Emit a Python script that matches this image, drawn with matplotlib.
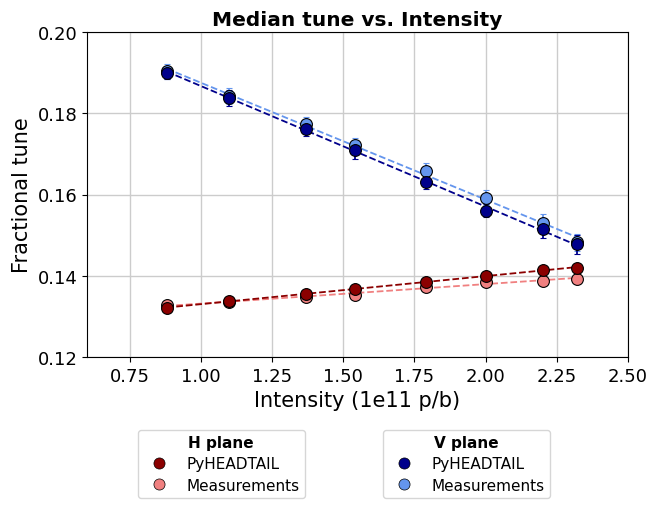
import numpy as np
import matplotlib
matplotlib.use("Agg")
import matplotlib.pyplot as plt

intensity = [0.88, 1.10, 1.37, 1.54, 1.79, 2.00, 2.20, 2.32]

h_sim = [0.1320, 0.1339, 0.1355, 0.1368, 0.1385, 0.1399, 0.1414, 0.1420]
h_meas = [0.1328, 0.1335, 0.1347, 0.1353, 0.1373, 0.1385, 0.1388, 0.1392]
v_sim = [0.1900, 0.1838, 0.1761, 0.1710, 0.1632, 0.1560, 0.1515, 0.1477]
v_meas = [0.1903, 0.1842, 0.1774, 0.1723, 0.1658, 0.1592, 0.1530, 0.1482]

h_sim_err = [0.0002, 0.0002, 0.0002, 0.0002, 0.0002, 0.0002, 0.0002, 0.0002]
h_meas_err = [0.0002, 0.0002, 0.0002, 0.0002, 0.0002, 0.0002, 0.0002, 0.0002]
v_sim_err = [0.0016, 0.0019, 0.0017, 0.0022, 0.0018, 0.0016, 0.0022, 0.0023]
v_meas_err = [0.0018, 0.0020, 0.0017, 0.0016, 0.0020, 0.0018, 0.0022, 0.0022]

series = [
    ("H", "PyHEADTAIL", h_sim, h_sim_err, "#8b0000"),
    ("H", "Measurements", h_meas, h_meas_err, "#f08080"),
    ("V", "PyHEADTAIL", v_sim, v_sim_err, "#00008b"),
    ("V", "Measurements", v_meas, v_meas_err, "#6495ed"),
]

fig = plt.figure(figsize=(6.5, 5.06), dpi=100)
ax = fig.add_axes([87 / 650, 1 - 358 / 506, 541 / 650, 325 / 506])

x = np.array(intensity)
handles = {"H": [], "V": []}
# measurements drawn first so simulation sits on top
order = [1, 0, 3, 2]
for i in order:
    plane, name, y, err, c = series[i]
    p = np.polyfit(x, y, 1)
    ax.plot(x, np.polyval(p, x), "--", color=c, lw=1.3, zorder=2)
    ax.errorbar(x, y, yerr=err, fmt="o", color=c, ecolor=c, mec="black", mew=0.8,
                ms=8.5, capsize=2, elinewidth=1.3, zorder=3)
for plane, name, y, err, c in series:
    h, = ax.plot([], [], "o", color=c, mec="black", mew=0.5, ms=8, label=name)
    handles[plane].append(h)

ax.set_xlim(0.6, 2.5)
ax.set_ylim(0.12, 0.20)
ax.set_xticks([0.75, 1.00, 1.25, 1.50, 1.75, 2.00, 2.25, 2.50])
ax.set_yticks([0.12, 0.14, 0.16, 0.18, 0.20])
ax.grid(True, color="#cccccc", lw=1)
ax.set_axisbelow(True)
ax.tick_params(labelsize=13)
ax.set_xlabel("Intensity (1e11 p/b)", fontsize=15)
ax.set_ylabel("Fractional tune", fontsize=15)
ax.set_title("Median tune vs. Intensity", fontsize=14.5, fontweight="bold", pad=5)

leg_kw = dict(loc="upper left", fontsize=11, borderaxespad=0, borderpad=0.35,
              labelspacing=0.4, title_fontproperties={"weight": "bold", "size": 11})
fig.legend(handles=handles["H"], title="H plane",
           bbox_to_anchor=(138 / 650, 1 - 431 / 506), **leg_kw)
fig.legend(handles=handles["V"], title="V plane",
           bbox_to_anchor=(383 / 650, 1 - 431 / 506), **leg_kw)

fig.savefig("out.png", dpi=100)
